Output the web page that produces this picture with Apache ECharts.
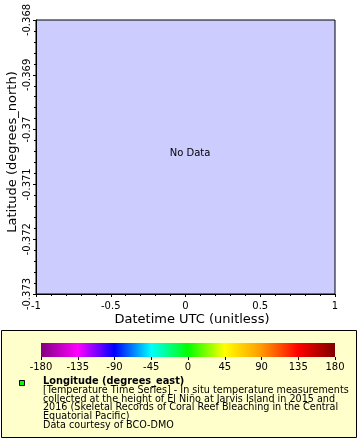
<!DOCTYPE html>
<html><head><meta charset="utf-8">
<script src="https://cdn.jsdelivr.net/npm/echarts@6/dist/echarts.min.js"></script>
<style>html,body{margin:0;padding:0;background:#fff}#c{width:360px;height:440px}</style>
</head><body><div id="c"></div>
<script>
var xRange = [-1, 1];
var xInterval = 0.5;
var yRange = [-0.373, -0.368];
var yInterval = 0.001;
var cbRange = [-180, 180];
var cbInterval = 45;
var cbColors = ['#800080', '#ff00ff', '#0000ff', '#00ffff', '#00ff00', '#ffff00', '#ff9900', '#ff0000', '#800000'];
var seriesData = [];
var legendTitle = 'Longitude (degrees_east)';
var legendLines = [
  '[Temperature Time Series] - In situ temperature measurements',
  'collected at the height of El Ni\u00f1o at Jarvis Island in 2015 and',
  '2016 (Skeletal Records of Coral Reef Bleaching in the Central',
  'Equatorial Pacific)',
  'Data courtesy of BCO-DMO'
];
var F = 'DejaVu Sans';
var chart = echarts.init(document.getElementById('c'), null, {renderer: 'canvas'});

var stops = cbColors.map(function (c, i) { return {offset: i / (cbColors.length - 1), color: c}; });
var graphics = [
  {type: 'rect', z: -10, shape: {x: 1.5, y: 330.5, width: 355, height: 107}, style: {fill: '#ffffcc', stroke: '#000', lineWidth: 1}},
  {type: 'rect', z: 10, shape: {x: 19.5, y: 380.5, width: 5, height: 5}, style: {fill: '#00ff00', stroke: '#000', lineWidth: 1}},
  {type: 'text', z: 10, x: 43, y: 381, style: {text: legendTitle, font: 'bold 9.8px "DejaVu Sans"', fill: '#000', verticalAlign: 'middle'}},
  {type: 'text', z: 10, x: 190, y: 153, style: {text: 'No Data', font: '10px "DejaVu Sans"', fill: '#000', align: 'center', verticalAlign: 'middle'}},
  {type: 'text', z: 10, x: 192, y: 320, style: {text: 'Datetime UTC (unitless)', font: '13px "DejaVu Sans"', fill: '#000', align: 'center', verticalAlign: 'middle'}},
  {type: 'text', z: 10, x: 13, y: 152, rotation: Math.PI / 2, style: {text: 'Latitude (degrees_north)', font: '13px "DejaVu Sans"', fill: '#000', align: 'center', verticalAlign: 'middle'}}
];
legendLines.forEach(function (t, i) {
  graphics.push({type: 'text', z: 10, x: 43, y: 390.3 + i * 8.8, style: {text: t, font: '9.65px "DejaVu Sans"', fill: '#000', verticalAlign: 'middle'}});
});

function fmt(v) { return String(parseFloat(v.toFixed(4))); }

chart.setOption({
  animation: false,
  backgroundColor: '#fff',
  textStyle: {fontFamily: F},
  grid: [
    {left: 36, right: 25, top: 20, bottom: 146, show: true, backgroundColor: '#ccccff', borderColor: '#000', borderWidth: 1},
    {left: 41, width: 294, top: 343, height: 14, show: true, borderWidth: 0, backgroundColor: new echarts.graphic.LinearGradient(0, 0, 1, 0, stops)}
  ],
  xAxis: [
    {type: 'value', gridIndex: 0, min: xRange[0], max: xRange[1], interval: xInterval,
     axisLine: {show: true, onZero: false, lineStyle: {color: '#000'}},
     axisTick: {show: true, length: 3, lineStyle: {color: '#000'}},
     minorTick: {show: true, splitNumber: 5, length: 2, lineStyle: {color: '#000'}},
     splitLine: {show: false},
     axisLabel: {color: '#000', fontSize: 10, fontFamily: F, margin: 7, formatter: fmt}},
    {type: 'value', gridIndex: 1, min: cbRange[0], max: cbRange[1], interval: cbInterval,
     axisLine: {show: false},
     axisTick: {show: true, length: 3, lineStyle: {color: '#000'}},
     splitLine: {show: false},
     axisLabel: {color: '#000', fontSize: 10, fontFamily: F, margin: 5}}
  ],
  yAxis: [
    {type: 'value', gridIndex: 0, min: yRange[0], max: yRange[1], interval: yInterval,
     axisLine: {show: true, onZero: false, lineStyle: {color: '#000'}},
     axisTick: {show: true, length: 3, lineStyle: {color: '#000'}},
     minorTick: {show: true, splitNumber: 5, length: 2, lineStyle: {color: '#000'}},
     splitLine: {show: false},
     axisLabel: {color: '#000', fontSize: 10, fontFamily: F, rotate: 90, margin: 4, formatter: fmt}},
    {type: 'value', gridIndex: 1, show: false, min: 0, max: 1}
  ],
  series: [
    {type: 'scatter', xAxisIndex: 0, yAxisIndex: 0, data: seriesData, silent: true}
  ],
  graphic: graphics
});
</script></body></html>
